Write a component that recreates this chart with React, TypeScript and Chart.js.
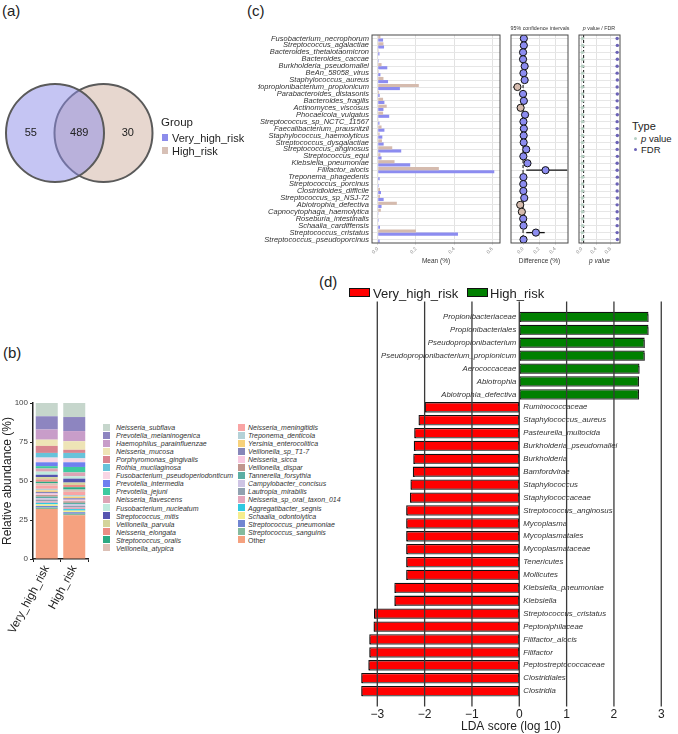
import React, { useEffect, useRef } from 'react';
import { Chart, registerables } from 'chart.js';

Chart.register(...registerables);

const FONT = "'Liberation Sans', Arial, Helvetica, sans-serif";
Chart.defaults.font.family = FONT;
Chart.defaults.color = '#333';

// ---------------- (a) Venn ----------------
const vennSets = ['Very_high_risk', 'High_risk'];
const vennCenters = [0, 1];
const vennCounts = [55, 489, 30]; // only Very_high_risk, shared, only High_risk
const vennFill = ['rgba(140,140,232,0.5)', 'rgba(208,176,160,0.5)'];
const vennSwatch = ['rgb(140,140,235)', 'rgb(215,192,182)'];

// ---------------- (b) stacked abundance ----------------
const abundGroups = ['Very_high_risk', 'High_risk'];
const abundTaxa = [
  'Neisseria_subflava', 'Prevotella_melaninogenica', 'Haemophilus_parainfluenzae', 'Neisseria_mucosa',
  'Porphyromonas_gingivalis', 'Rothia_mucilaginosa', 'Fusobacterium_pseudoperiodonticum', 'Prevotella_intermedia',
  'Prevotella_jejuni', 'Neisseria_flavescens', 'Fusobacterium_nucleatum', 'Streptococcus_mitis',
  'Veillonella_parvula', 'Neisseria_elongata', 'Streptococcus_oralis', 'Veillonella_atypica',
  'Neisseria_meningitidis', 'Treponema_denticola', 'Yersinia_enterocolitica', 'Veillonella_sp_T1-7',
  'Neisseria_sicca', 'Veillonella_dispar', 'Tannerella_forsythia', 'Campylobacter_concisus',
  'Lautropia_mirabilis', 'Neisseria_sp_oral_taxon_014', 'Aggregatibacter_segnis', 'Schaalia_odontolytica',
  'Streptococcus_pneumoniae', 'Streptococcus_sanguinis', 'Other',
];
const abundVeryHigh = [8.5, 8.5, 6.5, 4, 4.5, 3, 3, 2.5, 1.5, 2, 2, 1.5, 1.5, 1.5, 1, 1.5, 2, 1, 1, 1, 1, 1, 1, 1, 1, 1, 1, 1, 1, 1, 32];
const abundHigh = [9, 9, 6.5, 5.5, 2, 3.5, 2.5, 3, 3.5, 2.5, 1.5, 2.5, 1.5, 1.5, 1.5, 1.5, 2, 1, 1, 1, 1, 1, 1, 1, 1, 1, 1, 1, 1, 1, 28];
const abundColors = [
  '#c6d6cc', '#8d85c0', '#c89dc9', '#eee4b6', '#d9848f', '#68c3da', '#f8d6e5', '#6f80f0',
  '#3dca9f', '#dda4b5', '#bfeadd', '#5555b0', '#d4d49b', '#ec8d85', '#2ba983', '#dcc0b6',
  '#f9a4a4', '#b4d1d7', '#f7d17b', '#8686b9', '#f9c9e1', '#c1968e', '#5baea4', '#cec4e4',
  '#90a1b0', '#e4a7bc', '#30c9e1', '#f5ed8e', '#7085d1', '#84ba9d', '#f5a17f',
];
const abundTicks = [0, 25, 50, 75, 100];

// ---------------- (c) mean / CI / p ----------------
const meanSpecies = [
  'Fusobacterium_necrophorum', 'Streptococcus_agalactiae', 'Bacteroides_thetaiotaomicron', 'Bacteroides_caccae',
  'Burkholderia_pseudomallei', 'BeAn_58058_virus', 'Staphylococcus_aureus', 'Pseudopropionibacterium_propionicum',
  'Parabacteroides_distasonis', 'Bacteroides_fragilis', 'Actinomyces_viscosus', 'Phocaeicola_vulgatus',
  'Streptococcus_sp_NCTC_11567', 'Faecalibacterium_prausnitzii', 'Staphylococcus_haemolyticus', 'Streptococcus_dysgalactiae',
  'Streptococcus_anginosus', 'Streptococcus_equi', 'Klebsiella_pneumoniae', 'Filifactor_alocis',
  'Treponema_phagedenis', 'Streptococcus_porcinus', 'Clostridioides_difficile', 'Streptococcus_sp_NSJ-72',
  'Abiotrophia_defectiva', 'Capnocytophaga_haemolytica', 'Roseburia_intestinalis', 'Schaalia_cardiffensis',
  'Streptococcus_cristatus', 'Streptococcus_pseudoporcinus',
];
const meanHigh = [0.014, 0.03, 0.005, 0.003, 0.02, 0.005, 0.03, 0.215, 0.007, 0.028, 0.047, 0.028, 0.004, 0.02, 0.01, 0.022, 0.076, 0.014, 0.088, 0.32, 0.002, 0.002, 0.012, 0.012, 0.1, 0.016, 0.002, 0.002, 0.2, 0.002];
const meanVeryHigh = [0.028, 0.033, 0.009, 0.005, 0.05, 0.014, 0.054, 0.116, 0.01, 0.035, 0.03, 0.06, 0.009, 0.035, 0.024, 0.031, 0.123, 0.02, 0.17, 0.61, 0.01, 0.005, 0.017, 0.031, 0.02, 0.004, 0.005, 0.012, 0.42, 0.01];
const diffValues = [0.01, 0.01, 0, 0, 0.02, 0.005, 0.02, -0.07, 0, 0.01, -0.03, 0.025, 0.005, 0.01, 0.008, 0.008, 0.04, 0.004, 0.055, 0.28, 0.005, 0.003, 0.004, 0.015, -0.035, -0.015, 0.002, 0.006, 0.16, 0.006];
const ciLow = [0, 0, -0.01, -0.01, 0.005, -0.005, 0.005, -0.12, -0.01, 0, -0.045, 0.005, -0.005, 0, -0.002, -0.002, 0.015, -0.006, 0.02, 0.04, -0.005, -0.007, -0.006, 0.003, -0.06, -0.03, -0.008, -0.004, 0.04, -0.004];
const ciHigh = [0.02, 0.02, 0.01, 0.01, 0.035, 0.015, 0.035, -0.025, 0.01, 0.02, -0.015, 0.045, 0.015, 0.02, 0.018, 0.018, 0.065, 0.014, 0.09, 0.55, 0.015, 0.013, 0.014, 0.027, -0.01, 0, 0.012, 0.016, 0.27, 0.016];
const pValues = [0.018, 0.022, 0.015, 0.02, 0.017, 0.021, 0.019, 0.014, 0.02, 0.018, 0.016, 0.022, 0.02, 0.019, 0.017, 0.018, 0.015, 0.02, 0.013, 0.012, 0.021, 0.02, 0.019, 0.018, 0.016, 0.019, 0.021, 0.02, 0.014, 0.019];
const fdrValues = [0.99, 0.995, 0.99, 0.995, 0.99, 0.99, 0.995, 0.99, 0.995, 0.99, 0.99, 0.995, 0.99, 0.99, 0.995, 0.99, 0.99, 0.995, 0.99, 0.99, 0.995, 0.99, 0.99, 0.995, 0.99, 0.99, 0.995, 0.99, 0.99, 0.995];
const meanTicks = [0, 0.2, 0.4, 0.6];

// ---------------- (d) LDA ----------------
const ldaTaxa = [
  'Propionibacteriaceae', 'Propionibacteriales', 'Pseudopropionibacterium', 'Pseudopropionibacterium_propionicum',
  'Aerococcaceae', 'Abiotrophia', 'Abiotrophia_defectiva', 'Ruminococcaceae', 'Staphylococcus_aureus',
  'Pasteurella_multocida', 'Burkholderia_pseudomallei', 'Burkholderia', 'Bamfordvirae', 'Staphylococcus',
  'Staphylococcaceae', 'Streptococcus_anginosus', 'Mycoplasma', 'Mycoplasmatales', 'Mycoplasmataceae',
  'Tenericutes', 'Mollicutes', 'Klebsiella_pneumoniae', 'Klebsiella', 'Streptococcus_cristatus',
  'Peptoniphilaceae', 'Filifactor_alocis', 'Filifactor', 'Peptostreptococcaceae', 'Clostridiales', 'Clostridia',
];
const ldaScores = [2.73, 2.73, 2.65, 2.65, 2.54, 2.53, 2.53, -2.0, -2.13, -2.22, -2.23, -2.24, -2.25, -2.3, -2.31, -2.39, -2.39, -2.39, -2.39, -2.39, -2.39, -2.64, -2.64, -3.07, -3.08, -3.17, -3.17, -3.19, -3.34, -3.34];
const ldaGroups = ['Very_high_risk', 'High_risk'];
const ldaTicks = [-3, -2, -1, 0, 1, 2, 3];

const BLUE = '#8c8cf0';
const TAN = '#d5bbae';

const base = {
  responsive: false,
  animation: false as const,
  events: [] as any[],
  plugins: { legend: { display: false }, tooltip: { enabled: false }, title: { display: false } },
};

// ---------- plugins ----------
const vennPlugin = {
  id: 'vennCounts',
  afterDatasetsDraw(chart: any) {
    const { ctx } = chart;
    const xs = chart.scales.x, ys = chart.scales.y;
    const pos = [vennCenters[0] - 0.5, (vennCenters[0] + vennCenters[1]) / 2, vennCenters[1] + 0.5];
    ctx.save();
    ctx.font = `11px ${FONT}`;
    ctx.fillStyle = '#222';
    ctx.textAlign = 'center';
    ctx.textBaseline = 'middle';
    vennCounts.forEach((c, i) => ctx.fillText(String(c), xs.getPixelForValue(pos[i]), ys.getPixelForValue(0)));
    ctx.restore();
  },
};

const framePlugin = {
  id: 'frame',
  afterDraw(chart: any) {
    const { ctx, chartArea: a } = chart;
    ctx.save();
    ctx.strokeStyle = '#4a4a4a';
    ctx.lineWidth = 1;
    ctx.strokeRect(a.left, a.top, a.right - a.left, a.bottom - a.top);
    ctx.restore();
  },
};

const ciPlugin = {
  id: 'ci',
  beforeDatasetsDraw(chart: any) {
    const { ctx, chartArea: a } = chart;
    const xs = chart.scales.x, ys = chart.scales.y;
    ctx.save();
    ctx.strokeStyle = '#111';
    ctx.lineWidth = 1;
    ctx.setLineDash([3, 2]);
    const x0 = xs.getPixelForValue(0);
    ctx.beginPath();
    ctx.moveTo(x0, a.top);
    ctx.lineTo(x0, a.bottom);
    ctx.stroke();
    ctx.setLineDash([]);
    ctx.lineWidth = 1.3;
    diffValues.forEach((_, i) => {
      const y = ys.getPixelForValue(i);
      ctx.beginPath();
      ctx.moveTo(xs.getPixelForValue(ciLow[i]), y);
      ctx.lineTo(xs.getPixelForValue(ciHigh[i]), y);
      ctx.stroke();
    });
    ctx.restore();
  },
};

const pPlugin = {
  id: 'pline',
  beforeDatasetsDraw(chart: any) {
    const { ctx, chartArea: a } = chart;
    const x = chart.scales.x.getPixelForValue(0.05);
    ctx.save();
    ctx.strokeStyle = '#111';
    ctx.lineWidth = 1;
    ctx.setLineDash([3, 2]);
    ctx.beginPath();
    ctx.moveTo(x, a.top);
    ctx.lineTo(x, a.bottom);
    ctx.stroke();
    ctx.restore();
  },
};

const ldaPlugin = {
  id: 'lda',
  beforeDatasetsDraw(chart: any) {
    const ctx = chart.ctx;
    ctx.save();
    ctx.shadowColor = 'rgba(105,105,105,0.95)';
    ctx.shadowOffsetX = 0.5;
    ctx.shadowOffsetY = 2.5;
    ctx.shadowBlur = 0;
  },
  afterDatasetsDraw(chart: any) {
    const { ctx, chartArea: a } = chart;
    ctx.restore();
    const xs = chart.scales.x, ys = chart.scales.y;
    const x0 = xs.getPixelForValue(0);
    ctx.save();
    ctx.font = `italic 7.8px ${FONT}`;
    ctx.fillStyle = '#333';
    ctx.textBaseline = 'middle';
    ldaTaxa.forEach((t, i) => {
      const y = ys.getPixelForValue(i);
      if (ldaScores[i] > 0) {
        ctx.textAlign = 'right';
        ctx.fillText(t, x0 - 3, y);
      } else {
        ctx.textAlign = 'left';
        ctx.fillText(t, x0 + 4, y);
      }
    });
    ctx.strokeStyle = '#3a3a3a';
    ctx.lineWidth = 1.3;
    ldaTicks.forEach((v) => {
      const x = xs.getPixelForValue(v);
      ctx.beginPath();
      ctx.moveTo(x, a.top - 9);
      ctx.lineTo(x, a.bottom + 9);
      ctx.stroke();
    });
    ctx.restore();
  },
};

// ---------- configs ----------
const vennConfig = (): any => ({
  type: 'bubble',
  data: {
    datasets: vennSets.map((name, i) => ({
      label: name,
      data: [{ x: vennCenters[i], y: 0, r: 49 }],
      backgroundColor: vennFill[i],
      borderColor: '#5a5a5a',
      borderWidth: 2,
      clip: false,
    })),
  },
  options: {
    ...base,
    layout: { padding: 60 },
    scales: {
      x: { type: 'linear', display: false, min: -1.134, max: 2.165 },
      y: { type: 'linear', display: false, min: -1.5, max: 1.5 },
    },
  },
  plugins: [vennPlugin],
});

const abundConfig = (): any => {
  const order = abundTaxa.map((_, i) => abundTaxa.length - 1 - i);
  return {
    type: 'bar',
    data: {
      labels: abundGroups,
      datasets: order.map((i) => ({
        label: abundTaxa[i],
        data: [abundVeryHigh[i], abundHigh[i]],
        backgroundColor: abundColors[i],
        borderWidth: 0,
        barPercentage: 0.8,
        categoryPercentage: 1,
      })),
    },
    options: {
      ...base,
      layout: { padding: { left: 0, right: 10, top: 8, bottom: 0 } },
      scales: {
        x: {
          stacked: true,
          grid: { display: true, drawOnChartArea: false, drawTicks: true, tickLength: 3, color: '#222' },
          border: { display: true, color: '#222', width: 1.5 },
          ticks: { minRotation: 62, maxRotation: 62, font: { size: 11.5 }, color: '#222', padding: 1 },
          afterFit: (s: any) => { s.height = 101; },
        },
        y: {
          stacked: true,
          min: 0,
          max: 100,
          afterBuildTicks: (s: any) => { s.ticks = abundTicks.map((v) => ({ value: v })); },
          ticks: { font: { size: 8 }, color: '#444', padding: 2 },
          grid: { drawOnChartArea: false, tickLength: 3, color: '#222' },
          border: { display: true, color: '#222', width: 1.5 },
          title: { display: true, text: 'Relative abundance (%)', font: { size: 12 }, color: '#222', padding: 0 },
          afterFit: (s: any) => { s.width = 33; },
        },
      },
    },
  };
};

const smallX = (title: string, italic: boolean, min: number, max: number, ticks: number[]) => ({
  type: 'linear',
  min,
  max,
  afterBuildTicks: (s: any) => { s.ticks = ticks.map((v) => ({ value: v })); },
  ticks: {
    minRotation: 45, maxRotation: 45, font: { size: 5 }, color: '#888', padding: 1,
    callback: (v: any) => Number(v).toFixed(1),
  },
  grid: { color: '#e2e2e2', drawTicks: true, tickLength: 2 },
  border: { display: false },
  title: { display: true, text: title, font: { size: 6.5, style: italic ? 'italic' : 'normal' }, color: '#333', padding: { top: 0, bottom: 10 } },
  afterFit: (s: any) => { s.height = 32; },
});

const rowY = (width: number) => ({
  type: 'linear',
  reverse: true,
  min: -0.5,
  max: 29.5,
  afterBuildTicks: (s: any) => { s.ticks = meanSpecies.map((_, i) => ({ value: i })); },
  ticks: { display: false },
  grid: { color: '#e6e6e6', drawTicks: false },
  border: { display: false },
  afterFit: (s: any) => { s.width = width; },
});

const meanConfig = (): any => ({
  type: 'bar',
  data: {
    labels: meanSpecies,
    datasets: [
      { label: 'High_risk', data: meanHigh, backgroundColor: TAN, categoryPercentage: 0.9, barPercentage: 1 },
      { label: 'Very_high_risk', data: meanVeryHigh, backgroundColor: BLUE, categoryPercentage: 0.9, barPercentage: 1 },
    ],
  },
  options: {
    ...base,
    indexAxis: 'y',
    layout: { padding: { left: 0, right: 5, top: 15, bottom: 0 } },
    scales: {
      x: smallX('Mean (%)', false, -0.03, 0.64, meanTicks),
      y: {
        ticks: { font: { size: 7.5, style: 'italic' }, color: '#333', padding: 3, autoSkip: false },
        grid: { color: '#e6e6e6', offset: false, drawTicks: false },
        border: { display: false },
        afterFit: (s: any) => { s.width = 114; },
      },
    },
  },
  plugins: [framePlugin],
});

const ciConfig = (): any => ({
  type: 'scatter',
  data: {
    datasets: [{
      label: 'Difference',
      data: diffValues.map((d, i) => ({ x: d, y: i })),
      pointBackgroundColor: diffValues.map((d) => (d < 0 ? TAN : BLUE)),
      pointBorderColor: '#111',
      pointBorderWidth: 1,
      pointRadius: 3.6,
    }],
  },
  options: {
    ...base,
    layout: { padding: { left: 0, right: 7, top: 15, bottom: 0 } },
    scales: {
      x: smallX('Difference (%)', false, -0.15, 0.56, [0, 0.2, 0.4]),
      y: rowY(6),
    },
  },
  plugins: [ciPlugin, framePlugin],
});

const pConfig = (): any => ({
  type: 'scatter',
  data: {
    datasets: [
      { label: 'p value', data: pValues.map((p, i) => ({ x: p, y: i })), pointBackgroundColor: '#b7d0c3', pointBorderWidth: 0, pointRadius: 1.7 },
      { label: 'FDR', data: fdrValues.map((p, i) => ({ x: p, y: i })), pointBackgroundColor: '#6c63b7', pointBorderWidth: 0, pointRadius: 1.7 },
    ],
  },
  options: {
    ...base,
    layout: { padding: { left: 0, right: 7, top: 15, bottom: 0 } },
    scales: {
      x: smallX('p value', true, -0.08, 1.07, [0, 0.2, 0.4, 0.6, 0.8, 1.0]),
      y: rowY(3),
    },
  },
  plugins: [pPlugin, framePlugin],
});

const ldaConfig = (): any => ({
  type: 'bar',
  data: {
    labels: ldaTaxa,
    datasets: [{
      label: 'LDA',
      data: ldaScores,
      backgroundColor: ldaScores.map((v) => (v > 0 ? '#008000' : '#ff0000')),
      borderColor: '#111',
      borderWidth: 1.3,
      borderSkipped: false,
      barPercentage: 0.8,
      categoryPercentage: 1,
    }],
  },
  options: {
    ...base,
    indexAxis: 'y',
    layout: { padding: { left: 36, right: 12, top: 15.5, bottom: 0 } },
    scales: {
      x: {
        type: 'linear',
        min: -3.45,
        max: 3.1,
        afterBuildTicks: (s: any) => { s.ticks = ldaTicks.map((v) => ({ value: v })); },
        ticks: {
          font: { size: 12 }, color: '#222', padding: 10, maxRotation: 0,
          callback: (v: any) => (Number(v) < 0 ? '\u2212' + Math.abs(Number(v)) : String(v)),
        },
        grid: { display: false, drawTicks: false },
        border: { display: false },
        title: { display: true, text: 'LDA score (log 10)', font: { size: 12 }, color: '#222', padding: 0 },
        afterFit: (s: any) => { s.height = 36.5; },
      },
      y: { display: false },
    },
  },
  plugins: [ldaPlugin],
});

// ---------- components ----------
function ChartBox({ x, y, w, h, make }: { x: number; y: number; w: number; h: number; make: () => any }) {
  const ref = useRef<HTMLCanvasElement | null>(null);
  useEffect(() => {
    const chart = new Chart(ref.current as HTMLCanvasElement, make());
    return () => chart.destroy();
  }, []);
  return (
    <canvas
      ref={ref}
      width={w}
      height={h}
      style={{ position: 'absolute', left: x, top: y, width: w, height: h, display: 'block' }}
    />
  );
}

function Txt({ x, y, size, children, italic, color, anchor }: any) {
  return (
    <div
      style={{
        position: 'absolute',
        left: x,
        top: y,
        fontSize: size,
        lineHeight: 1,
        fontStyle: italic ? 'italic' : 'normal',
        color: color || '#222',
        whiteSpace: 'nowrap',
        transform: anchor === 'center' ? 'translate(-50%,-50%)' : 'translateY(-50%)',
        fontFamily: FONT,
      }}
    >
      {children}
    </div>
  );
}

function Box({ x, y, w, h, color, border }: any) {
  return (
    <div
      style={{
        position: 'absolute', left: x, top: y, width: w, height: h, background: color,
        boxSizing: 'border-box', border: border || 'none',
      }}
    />
  );
}

export default function App() {
  const legendRows = 16;
  return (
    <div style={{ position: 'absolute', left: 0, top: 0, width: 678, height: 734, background: '#fff', overflow: 'hidden', fontFamily: FONT }}>
      {/* panel labels */}
      <Txt x={2} y={10} size={15}>(a)</Txt>
      <Txt x={3} y={352} size={15}>(b)</Txt>
      <Txt x={247} y={10} size={15}>(c)</Txt>
      <Txt x={319} y={281} size={15}>(d)</Txt>

      {/* (a) */}
      <ChartBox x={-60} y={-2} w={280} h={270} make={vennConfig} />
      <Txt x={161} y={123} size={11.5}>Group</Txt>
      {vennSets.map((s, i) => (
        <React.Fragment key={s}>
          <Box x={162} y={134 + i * 13} w={6} h={7} color={vennSwatch[i]} />
          <Txt x={172} y={137.5 + i * 13} size={11}>{s}</Txt>
        </React.Fragment>
      ))}

      {/* (b) */}
      <ChartBox x={0} y={395} w={98} h={265} make={abundConfig} />
      {abundTaxa.map((t, i) => {
        const col = i < legendRows ? 0 : 1;
        const row = col === 0 ? i : i - legendRows;
        const cy = 427 + row * 8.05;
        return (
          <React.Fragment key={t}>
            <Box x={col === 0 ? 103 : 238} y={cy - 3.5} w={7} h={7} color={abundColors[i]} />
            <Txt x={col === 0 ? 116 : 248} y={cy} size={7} italic={t !== 'Other'} color="#333">{t}</Txt>
          </React.Fragment>
        );
      })}

      {/* (c) */}
      <ChartBox x={258} y={20} w={247} h={255} make={meanConfig} />
      <ChartBox x={505} y={20} w={70} h={255} make={ciConfig} />
      <ChartBox x={575} y={20} w={52} h={255} make={pConfig} />
      <Txt x={540} y={29} size={5.3} anchor="center" color="#333">95% confidence intervals</Txt>
      <Txt x={599} y={29} size={5.3} anchor="center" color="#333"><i>p</i> value / FDR</Txt>
      <Txt x={632} y={126} size={11}>Type</Txt>
      <div style={{ position: 'absolute', left: 634, top: 137, width: 3, height: 3, borderRadius: 2, background: '#b7d0c3' }} />
      <Txt x={641} y={139} size={9.5}><i>p</i> value</Txt>
      <div style={{ position: 'absolute', left: 634, top: 148, width: 3, height: 3, borderRadius: 2, background: '#6c63b7' }} />
      <Txt x={641} y={150} size={9.5}>FDR</Txt>

      {/* (d) */}
      <ChartBox x={320} y={295} w={358} h={439} make={ldaConfig} />
      <Box x={349} y={288} w={21} h={9} color="#ff0000" border="1.5px solid #111" />
      <Txt x={373} y={292.5} size={13}>{ldaGroups[0]}</Txt>
      <Box x={467} y={288} w={21} h={9} color="#008000" border="1.5px solid #111" />
      <Txt x={490} y={292.5} size={13}>{ldaGroups[1]}</Txt>
    </div>
  );
}
